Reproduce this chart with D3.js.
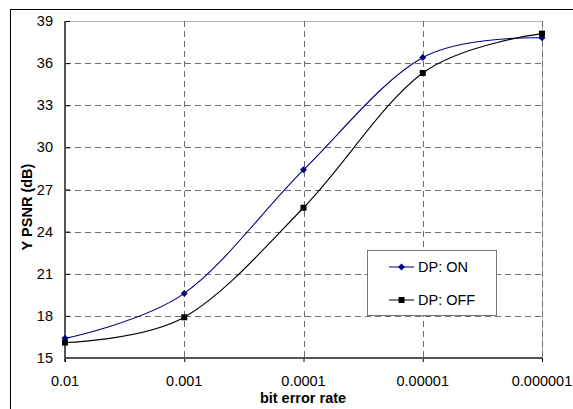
<!DOCTYPE html>
<html>
<head>
<meta charset="utf-8">
<script src="https://cdn.jsdelivr.net/npm/d3@7/dist/d3.min.js"></script>
<style>
  html, body { margin: 0; padding: 0; background: #fff; }
  svg { display: block; }
  text { font-family: "Liberation Sans", Arial, sans-serif; fill: #000; }
</style>
</head>
<body>
<svg id="chart" width="573" height="409"></svg>
<script>
// Bit error rate categories (evenly spaced on the axis)
const berLabels = ["0.01", "0.001", "0.0001", "0.00001", "0.000001"];
// Y PSNR (dB) for each setting
const dpOn  = [16.4, 19.6, 28.4, 36.4, 37.8];
const dpOff = [16.1, 17.9, 25.7, 35.3, 38.1];
// Y-axis tick values
const yTicks = [15, 18, 21, 24, 27, 30, 33, 36, 39];

const svg = d3.select("#chart");
const W = 573, H = 409;
const plot = { left: 65, right: 542, top: 21, bottom: 358 };

const x = d3.scalePoint().domain(berLabels).range([plot.left, plot.right]);
const y = d3.scaleLinear().domain([15, 39]).range([plot.bottom, plot.top]);

// Chart-area frame (runs off the right and bottom edges)
svg.append("rect")
  .attr("x", 10.5).attr("y", 9.5)
  .attr("width", 700).attr("height", 600)
  .attr("fill", "#fff").attr("stroke", "#000").attr("stroke-width", 1);

// Plot-area border
svg.append("rect")
  .attr("x", plot.left + 0.5).attr("y", plot.top + 0.5)
  .attr("width", plot.right - plot.left).attr("height", plot.bottom - plot.top)
  .attr("fill", "#fff").attr("stroke", "#b4b4b4").attr("stroke-width", 1);

// Dashed gridlines
const grid = svg.append("g").attr("stroke", "#6e6e6e").attr("stroke-width", 1)
  .attr("stroke-dasharray", "6,4");
grid.selectAll("line.h").data(yTicks.filter(v => v > 15 && v < 39)).join("line")
  .attr("class", "h")
  .attr("x1", plot.left).attr("x2", plot.right)
  .attr("y1", d => Math.round(y(d)) + 0.5).attr("y2", d => Math.round(y(d)) + 0.5);
grid.selectAll("line.v").data(berLabels.slice(1)).join("line")
  .attr("class", "v")
  .attr("y1", plot.top).attr("y2", plot.bottom)
  .attr("x1", d => Math.round(x(d)) + 0.5).attr("x2", d => Math.round(x(d)) + 0.5);

// Y axis: line, inward ticks, labels
const yAxis = d3.axisRight(y).tickValues(yTicks).tickSize(5).tickFormat("");
const yg = svg.append("g").attr("transform", `translate(${plot.left},0)`).call(yAxis);
yg.select(".domain").remove();
yg.selectAll(".tick line").attr("stroke", "#000");
svg.append("line")
  .attr("x1", plot.left).attr("x2", plot.left)
  .attr("y1", plot.top).attr("y2", plot.bottom + 4)
  .attr("stroke", "#555").attr("stroke-width", 2);
svg.append("g").selectAll("text").data(yTicks).join("text")
  .attr("x", 53).attr("y", d => y(d) + 5)
  .attr("text-anchor", "end")
  .attr("font-size", 14.5)
  .text(d => d);

// X axis: line, outward ticks, labels
const xAxis = d3.axisBottom(x).tickSize(4).tickFormat("");
const xg = svg.append("g").attr("transform", `translate(0,${plot.bottom})`).call(xAxis);
xg.select(".domain").remove();
xg.selectAll(".tick line").attr("stroke", "#000");
svg.append("line")
  .attr("x1", plot.left - 1).attr("x2", plot.right)
  .attr("y1", plot.bottom).attr("y2", plot.bottom)
  .attr("stroke", "#555").attr("stroke-width", 2);
svg.append("g").selectAll("text").data(berLabels).join("text")
  .attr("x", d => x(d)).attr("y", 386)
  .attr("text-anchor", "middle")
  .attr("font-size", 14.5)
  .text(d => d);

// Axis titles
svg.append("text")
  .attr("x", 303).attr("y", 403)
  .attr("text-anchor", "middle")
  .attr("font-size", 14.5).attr("font-weight", "bold")
  .text("bit error rate");
svg.append("text")
  .attr("transform", "translate(32,207) rotate(-90)")
  .attr("text-anchor", "middle")
  .attr("font-size", 14.5).attr("font-weight", "bold")
  .text("Y PSNR (dB)");

// Smoothed series lines
const line = d3.line()
  .x((d, i) => x(berLabels[i]))
  .y(d => y(d))
  .curve(d3.curveCardinal.tension(0));

const series = [
  { name: "DP: ON",  values: dpOn,  color: "#000080", marker: "diamond" },
  { name: "DP: OFF", values: dpOff, color: "#000000", marker: "square" }
];

function drawMarker(g, type, cx, cy, color) {
  if (type === "diamond") {
    const r = 3.5;
    g.append("path")
      .attr("d", `M${cx},${cy - r}L${cx + r},${cy}L${cx},${cy + r}L${cx - r},${cy}Z`)
      .attr("fill", color);
  } else {
    const s = 6;
    g.append("rect")
      .attr("x", cx - s / 2).attr("y", cy - s / 2)
      .attr("width", s).attr("height", s)
      .attr("fill", color);
  }
}

series.forEach(s => {
  svg.append("path")
    .attr("d", line(s.values))
    .attr("fill", "none")
    .attr("stroke", s.color)
    .attr("stroke-width", 1.1);
  const mg = svg.append("g");
  s.values.forEach((v, i) => drawMarker(mg, s.marker, x(berLabels[i]), y(v), s.color));
});

// Legend
const legend = svg.append("g");
legend.append("rect")
  .attr("x", 367.5).attr("y", 250.5)
  .attr("width", 129).attr("height", 65)
  .attr("fill", "#fff").attr("stroke", "#777").attr("stroke-width", 1);
series.forEach((s, i) => {
  const ly = 267 + i * 33;
  legend.append("line")
    .attr("x1", 389).attr("x2", 414)
    .attr("y1", ly).attr("y2", ly)
    .attr("stroke", s.color).attr("stroke-width", 1);
  drawMarker(legend, s.marker, 401.5, ly, s.color);
  legend.append("text")
    .attr("x", 418).attr("y", ly + 5)
    .attr("font-size", 14.5)
    .text(s.name);
});
</script>
</body>
</html>
